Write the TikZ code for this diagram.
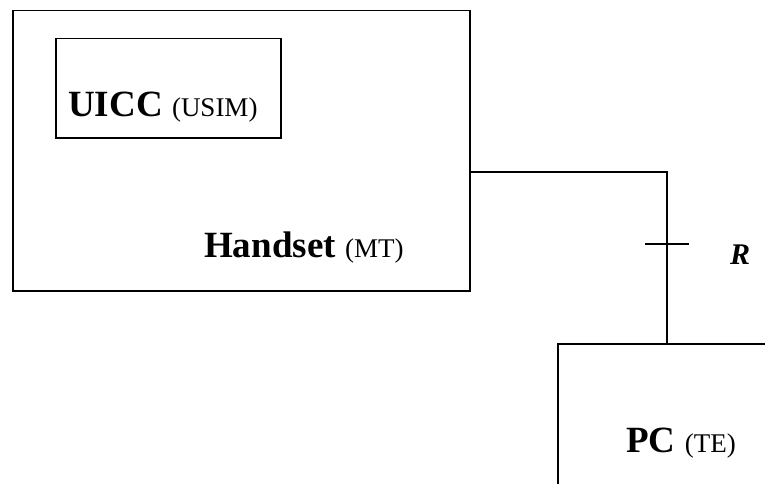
\documentclass[tikz,border=0pt]{standalone}
\usepackage{fontspec}
\setmainfont{Liberation Serif}
\begin{document}
\begin{tikzpicture}[x=1pt,y=-1pt,
  box/.style={draw,line width=1.5pt,inner sep=0pt,anchor=north west},
  lbl/.style={anchor=base west,inner sep=0pt},
  wire/.style={line width=1.5pt}]
\newcommand{\bigt}{\fontsize{37}{40}\selectfont\bfseries}
\newcommand{\smallt}{\fontsize{27}{30}\selectfont\mdseries}
\useasboundingbox (0,0) rectangle (765,484);
\clip (0,0) rectangle (765,484);
\node[box,minimum width=457pt,minimum height=280pt] (hs) at (12,10) {};
\node[box,minimum width=225pt,minimum height=99pt] (uicc) at (55,38) {};
\node[box,minimum width=260pt,minimum height=200pt] (pc) at (557,343) {};
\node[lbl] (uicct) at (68,117) {\bigt UICC \smallt(USIM)};
\node[lbl] (hst) at (204,257) {\bigt Handset \smallt(MT)};
\node[lbl] (pct) at (626,452) {\bigt PC \smallt(TE)};
\coordinate (c1) at (hs.east |- 0,172);
\coordinate (c2) at (667,172);
\coordinate (c3) at (667,343);
\draw[wire] (c1) -- (c2) -- (c3);
\coordinate (t1) at (645,244);
\coordinate (t2) at (689,244);
\draw[wire] (t1) -- (t2);
\node[lbl,font=\fontsize{30}{33}\selectfont\bfseries\itshape] (r) at (730,264) {R};
\end{tikzpicture}
\end{document}
